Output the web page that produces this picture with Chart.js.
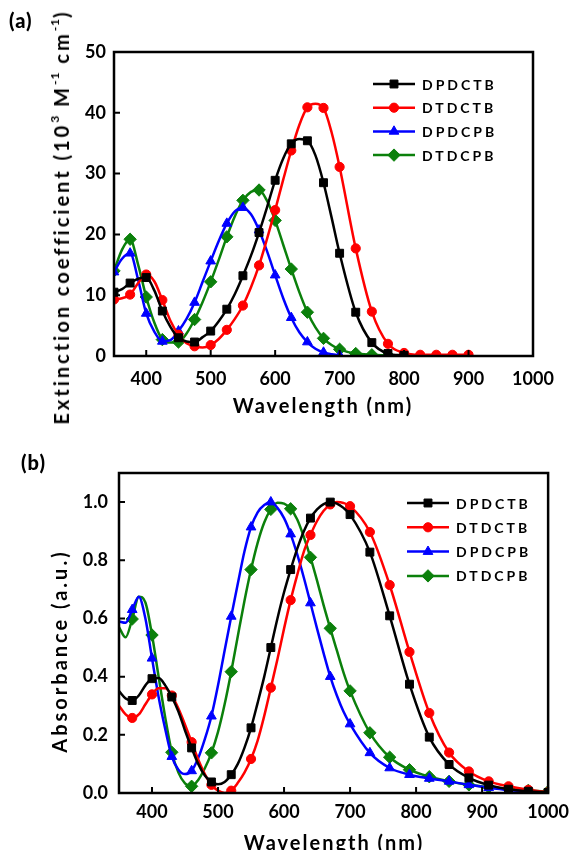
<!DOCTYPE html>
<html>
<head>
<meta charset="utf-8">
<script src="https://cdn.jsdelivr.net/npm/chart.js@4.4.0/dist/chart.umd.min.js"></script>
<style>
  body { margin: 0; background: #fff; width: 577px; height: 850px; overflow: hidden; position: relative;
         font-family: Lato, "Open Sans", sans-serif; font-weight: bold; color: #000; }
  canvas { position: absolute; left: 0; }
  #chart-a { top: 0; }
  #chart-b { top: 420px; }
  .panel { position: absolute; font-size: 20px; line-height: 20px; font-weight: 900; letter-spacing: 1px; }
  .ytitle { position: absolute; white-space: nowrap; font-size: 20px; letter-spacing: 3px; line-height: 22px;
            transform: translate(-50%, -50%) rotate(-90deg); }
  .xtitle { position: absolute; white-space: nowrap; font-size: 20px; letter-spacing: 2px; line-height: 20px;
            transform: translate(-50%, -50%); }
  sup { font-size: 12px; line-height: 0; position: relative; top: -2px; letter-spacing: 1px; }
</style>
</head>
<body>
<canvas id="chart-a" width="577" height="430"></canvas>
<canvas id="chart-b" width="577" height="430"></canvas>

<div class="panel" style="left:9px; top:10px;">(a)</div>
<div class="ytitle" style="left:61px; top:217px;">Extinction coefficient (10<sup>3</sup> M<sup>-1</sup> cm<sup>-1</sup>)</div>
<div class="xtitle" style="left:323px; top:405px;">Wavelength (nm)</div>

<div class="panel" style="left:21px; top:452px;">(b)</div>
<div class="ytitle" style="left:59px; top:651px;">Absorbance (a.u.)</div>
<div class="xtitle" style="left:334px; top:842px;">Wavelength (nm)</div>

<script>
// ---- data: (a) extinction coefficient, 10^3 M^-1 cm^-1
const wavelengthA = [350, 362.5, 375, 387.5, 400, 412.5, 425, 437.5, 450, 462.5, 475, 487.5, 500, 512.5, 525, 537.5,
    550, 562.5, 575, 587.5, 600, 612.5, 625, 637.5, 650, 662.5, 675, 687.5, 700, 725, 750, 775, 800, 825, 850, 875, 900];
const dpdctbA = [10.5, 11.0, 12.0, 12.7, 12.9, 10.8, 7.4, 4.8, 3.0, 2.4, 2.3, 3.1, 4.1, 5.7, 7.7, 10.2,
    13.2, 16.5, 20.3, 24.5, 28.9, 32.5, 34.9, 35.7, 35.4, 33.0, 28.5, 22.8, 16.9, 7.2, 2.2, 0.4, 0.1, null, null, null, null];
const dtdctbA = [9.3, 9.5, 10.1, 12.0, 13.4, 12.3, 9.2, 5.8, 3.5, 2.1, 1.6, 1.4, 1.8, 2.8, 4.3, 6.1,
    8.3, 11.3, 14.9, 19.3, 24.0, 29.0, 33.8, 38.0, 40.9, 41.5, 40.8, 36.8, 31.1, 17.7, 7.3, 2.0, 0.5, 0.2, 0.2, 0.2, 0.2];
const dpdcpbA = [13.8, 16.0, 16.9, 12.5, 7.0, 4.0, 2.4, 2.6, 4.1, 6.1, 8.8, 12.2, 15.6, 18.9, 21.8, 23.8,
    24.4, 23.3, 20.7, 17.2, 13.3, 9.5, 6.3, 3.9, 2.3, 1.2, 0.6, 0.3, 0.1, null, null, null, null, null, null, null, null];
const dtdcpbA = [14.0, 17.5, 19.2, 15.0, 9.7, 5.5, 2.7, 2.2, 2.3, 3.7, 6.0, 8.9, 12.2, 15.8, 19.6, 23.0,
    25.6, 27.0, 27.3, 25.5, 22.3, 18.3, 14.3, 10.5, 7.2, 4.7, 2.9, 1.8, 1.1, 0.4, 0.2, 0.1, 0.1, null, null, null, null];

// ---- data: (b) normalised absorbance
const wavelengthB = [350, 360, 370, 380, 390, 400, 410, 420, 430, 440, 450, 460, 470, 480, 490, 500, 510, 520,
    530, 540, 550, 560, 570, 580, 590, 600, 610, 620, 630, 640, 650, 660, 670, 680, 690, 700,
    730, 760, 790, 820, 850, 880, 910, 940, 970, 1000];
const dpdctbB = [0.35, 0.325, 0.318, 0.335, 0.37, 0.393, 0.395, 0.37, 0.33, 0.28, 0.215, 0.155, 0.10, 0.06, 0.038, 0.03, 0.038, 0.063,
    0.10, 0.155, 0.224, 0.31, 0.40, 0.50, 0.60, 0.69, 0.768, 0.84, 0.90, 0.945, 0.975, 0.993, 1.0, 0.995, 0.98, 0.957,
    0.828, 0.609, 0.374, 0.192, 0.098, 0.052, 0.027, 0.013, 0.006, 0.002];
const dtdctbB = [0.30, 0.27, 0.258, 0.27, 0.305, 0.339, 0.36, 0.36, 0.335, 0.29, 0.235, 0.175, 0.115, 0.065, 0.028, 0.008, 0.0, 0.008,
    0.035, 0.07, 0.117, 0.18, 0.265, 0.362, 0.46, 0.565, 0.663, 0.75, 0.83, 0.887, 0.935, 0.97, 0.992, 1.0, 0.997, 0.986,
    0.897, 0.715, 0.485, 0.275, 0.139, 0.074, 0.040, 0.023, 0.011, 0.003];
const dpdcpbB = [0.59, 0.585, 0.63, 0.675, 0.6, 0.463, 0.33, 0.22, 0.125, 0.08, 0.065, 0.076, 0.12, 0.185, 0.264, 0.37, 0.49, 0.607,
    0.72, 0.83, 0.914, 0.965, 0.99, 1.0, 0.98, 0.945, 0.89, 0.82, 0.74, 0.653, 0.565, 0.48, 0.40, 0.335, 0.28, 0.237,
    0.138, 0.086, 0.063, 0.05, 0.04, 0.028, 0.018, 0.01, 0.005, 0.002];
const dtdcpbB = [0.57, 0.535, 0.598, 0.675, 0.655, 0.543, 0.4, 0.26, 0.14, 0.07, 0.033, 0.023, 0.045, 0.085, 0.138, 0.21, 0.305, 0.417,
    0.54, 0.66, 0.768, 0.86, 0.93, 0.975, 0.998, 0.995, 0.977, 0.94, 0.88, 0.81, 0.73, 0.645, 0.566, 0.49, 0.415, 0.351,
    0.207, 0.123, 0.08, 0.056, 0.04, 0.028, 0.02, 0.014, 0.009, 0.005];

const seriesNames = ['DPDCTB', 'DTDCTB', 'DPDCPB', 'DTDCPB'];
const xTicks = [400, 500, 600, 700, 800, 900, 1000];

const colors = ['#000000', '#ff0000', '#0000ff', '#0b800b'];
const markers = ['rect', 'circle', 'triangle', 'rectRot'];
const markerSize = [5.6, 4.6, 5.6, 6.2];

Chart.defaults.font.family = 'Lato, "Open Sans", sans-serif';
Chart.defaults.font.weight = 'bold';
Chart.defaults.color = '#000';

const toPoints = (xs, ys) => xs.map((x, i) => ({ x: x, y: ys[i] }));

// frame box, inward ticks and the legend inside the plot
const framePlugin = {
    id: 'frame',
    afterDraw(chart, args, opts) {
        const { ctx, chartArea: a, scales } = chart;
        ctx.save();
        ctx.strokeStyle = '#000';
        ctx.lineWidth = 2.5;
        ctx.strokeRect(a.left, a.top, a.right - a.left, a.bottom - a.top);
        ctx.lineWidth = 2;
        ctx.beginPath();
        scales.x.ticks.forEach(t => {
            const px = scales.x.getPixelForValue(t.value);
            ctx.moveTo(px, a.bottom); ctx.lineTo(px, a.bottom - 6);
        });
        scales.y.ticks.forEach(t => {
            const py = scales.y.getPixelForValue(t.value);
            ctx.moveTo(a.left, py); ctx.lineTo(a.left + 6, py);
        });
        ctx.stroke();

        chart.data.datasets.forEach((ds, i) => {
            const y = opts.y + i * opts.step;
            ctx.strokeStyle = ds.borderColor;
            ctx.fillStyle = ds.borderColor;
            ctx.lineWidth = 2.5;
            ctx.beginPath();
            ctx.moveTo(opts.x, y); ctx.lineTo(opts.x + opts.lineLen, y);
            ctx.stroke();
            ctx.lineWidth = 1;
            Chart.helpers.drawPoint(ctx, { pointStyle: ds.pointStyle, radius: markerSize[i], borderWidth: 1, rotation: 0 },
                opts.x + opts.lineLen / 2, y);
            ctx.fillStyle = '#000';
            ctx.font = 'bold 14px Lato, "Open Sans", sans-serif';
            if ('letterSpacing' in ctx) ctx.letterSpacing = '3px';
            ctx.textBaseline = 'middle';
            ctx.textAlign = 'left';
            ctx.fillText(ds.label, opts.x + opts.lineLen + 7, y + 1);
            if ('letterSpacing' in ctx) ctx.letterSpacing = '0px';
        });
        ctx.restore();
    }
};

function makeDatasets(xs, seriesList, isMarker) {
    return seriesList.map((ys, i) => ({
        label: seriesNames[i],
        data: toPoints(xs, ys),
        borderColor: colors[i],
        backgroundColor: colors[i],
        borderWidth: 2.5,
        pointStyle: markers[i],
        pointRadius: c => (c.raw && c.raw.y !== null && isMarker(c.raw.x)) ? markerSize[i] : 0,
        pointBorderWidth: 1,
        cubicInterpolationMode: 'monotone',
        spanGaps: false
    }));
}

function axisOptions(min, max, step, pad, size, fmt) {
    return {
        type: 'linear', min: min, max: max,
        ticks: { stepSize: step, padding: pad, color: '#000', font: { size: 18, weight: 'bold' },
                 maxRotation: 0, autoSkip: false, callback: fmt },
        grid: { display: true, drawOnChartArea: false, drawTicks: false },
        border: { display: false },
        afterFit: s => { if (s.isHorizontal()) s.height = size; else s.width = size; }
    };
}

// (a) extinction coefficient
const ctxA = document.getElementById('chart-a');
const xA = axisOptions(350, 1000, 100, 12, 74, v => v);
xA.afterBuildTicks = s => { s.ticks = xTicks.map(v => ({ value: v })); };
new Chart(ctxA, {
    type: 'line',
    data: { datasets: makeDatasets(wavelengthA, [dpdctbA, dtdctbA, dpdcpbA, dtdcpbA], x => x % 25 === 0) },
    options: {
        responsive: false,
        animation: false,
        layout: { padding: { top: 52, right: 44, left: 0, bottom: 0 } },
        scales: { x: xA, y: axisOptions(0, 50, 10, 8, 114, v => v) },
        plugins: {
            legend: { display: false },
            tooltip: { enabled: false },
            frame: { x: 373, y: 84, step: 23.7, lineLen: 42 }
        }
    },
    plugins: [framePlugin]
});

// (b) normalised absorbance
const ctxB = document.getElementById('chart-b');
const xB = axisOptions(350, 1000, 100, 8, 57, v => v);
xB.afterBuildTicks = s => { s.ticks = xTicks.map(v => ({ value: v })); };
const yB = axisOptions(0, 1.1, 0.2, 11, 119, v => v.toFixed(1));
yB.afterBuildTicks = s => { s.ticks = s.ticks.filter(t => t.value <= 1.0001); };
new Chart(ctxB, {
    type: 'line',
    data: { datasets: makeDatasets(wavelengthB, [dpdctbB, dtdctbB, dpdcpbB, dtdcpbB], x => x >= 370 && (x - 370) % 30 === 0) },
    options: {
        responsive: false,
        animation: false,
        layout: { padding: { top: 53, right: 28, left: 0, bottom: 0 } },
        scales: { x: xB, y: yB },
        plugins: {
            legend: { display: false },
            tooltip: { enabled: false },
            frame: { x: 407, y: 83, step: 24.3, lineLen: 42 }
        }
    },
    plugins: [framePlugin]
});
</script>
</body>
</html>
